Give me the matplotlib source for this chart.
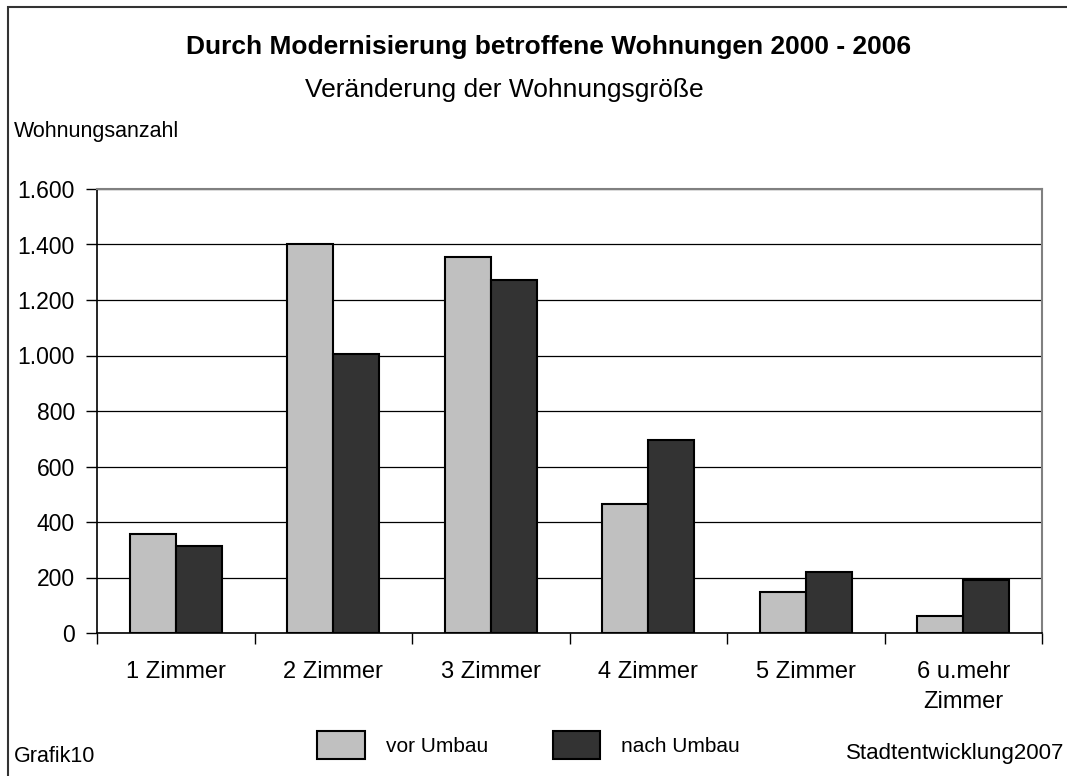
import matplotlib.pyplot as plt
import numpy as np
from matplotlib.patches import Rectangle
from matplotlib.ticker import FuncFormatter

plt.rcParams['font.family'] = ['Liberation Sans', 'DejaVu Sans']

# data
categories = ["1 Zimmer", "2 Zimmer", "3 Zimmer", "4 Zimmer", "5 Zimmer", "6 u.mehr\nZimmer"]
vor_umbau = [358, 1400, 1356, 466, 148, 63]
nach_umbau = [315, 1005, 1271, 697, 220, 192]
series_names = ["vor Umbau", "nach Umbau"]
y_ticks = [0, 200, 400, 600, 800, 1000, 1200, 1400, 1600]

W, H = 1067, 776
fig = plt.figure(figsize=(W / 100, H / 100), dpi=100)
ax = fig.add_axes([97 / W, 1 - 633 / H, (1042 - 97) / W, (633 - 189) / H])

x = np.arange(len(categories))
bw = 0.292
b1 = ax.bar(x - bw / 2, vor_umbau, bw, color='#c0c0c0', edgecolor='black', linewidth=1.5, zorder=3)
b2 = ax.bar(x + bw / 2, nach_umbau, bw, color='#333333', edgecolor='black', linewidth=1.5, zorder=3)

ax.set_xlim(-0.5, len(categories) - 0.5)
ax.set_ylim(0, 1600)
ax.set_yticks(y_ticks)
ax.yaxis.set_major_formatter(FuncFormatter(lambda v, p: f"{int(v):,}".replace(",", ".")))
ax.grid(axis='y', color='black', linewidth=0.9, zorder=0)

# category boundaries as ticks, labels at centres
ax.set_xticks(np.arange(-0.5, len(categories)), labels=[""] * (len(categories) + 1))
ax.set_xticks(x, labels=categories, minor=True)
ax.tick_params(axis='x', which='major', direction='out', length=8, width=1)
ax.tick_params(axis='x', which='minor', length=0, pad=20, labelsize=17)
ax.tick_params(axis='y', direction='out', length=8, width=1, labelsize=16.5, pad=8)
for lbl in ax.get_xticklabels(minor=True):
    lbl.set_linespacing(1.5)

for s in ['left', 'bottom']:
    ax.spines[s].set_color('black')
    ax.spines[s].set_linewidth(1.2)
for s in ['top', 'right']:
    ax.spines[s].set_color('#808080')
    ax.spines[s].set_linewidth(1.5)

# outer chart frame (cut off at right and bottom)
fig.add_artist(Rectangle((8 / W, -0.1), 1.2, 1.1 - 7 / H, transform=fig.transFigure,
                         fill=False, edgecolor='#333333', linewidth=1.5))

fig.text(0.514, 1 - 47 / H, "Durch Modernisierung betroffene Wohnungen 2000 - 2006",
         ha='center', va='center', fontsize=19, fontweight='bold')
fig.text(0.473, 1 - 90 / H, "Veränderung der Wohnungsgröße", ha='center', va='center', fontsize=19)
fig.text(14 / W, 1 - 131 / H, "Wohnungsanzahl", ha='left', va='center', fontsize=15.5)
fig.text(14 / W, 1 - 757 / H, "Grafik10", ha='left', va='center', fontsize=15.5)
fig.text(1064 / W, 1 - 753 / H, "Stadtentwicklung2007", ha='right', va='center', fontsize=16)

fig.legend([b1, b2], series_names, loc='center left', bbox_to_anchor=(317 / W, 1 - 745 / H),
           ncol=2, frameon=False, fontsize=15, handlelength=2.3, handleheight=1.75,
           handletextpad=1.0, columnspacing=3.1, borderpad=0, borderaxespad=0)

fig.savefig("out.png", dpi=100)
